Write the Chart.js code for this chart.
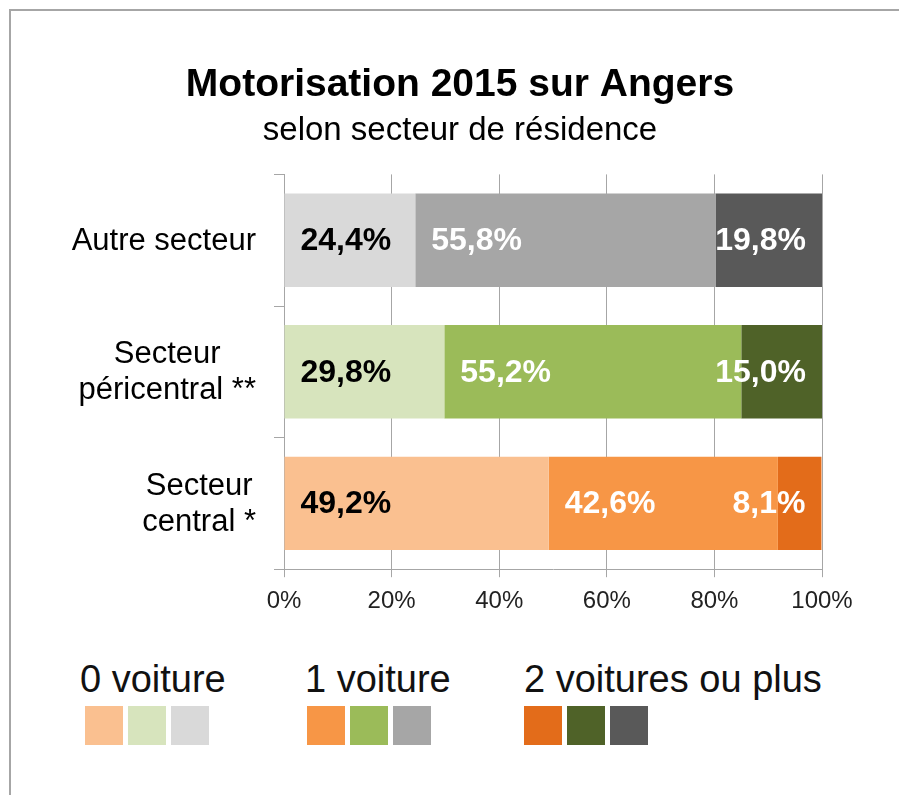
<!DOCTYPE html>
<html>
<head>
<meta charset="utf-8">
<script src="https://cdn.jsdelivr.net/npm/chart.js@4.4.0/dist/chart.umd.min.js"></script>
<style>
    body { margin: 0; background: #fff; width: 899px; height: 795px; overflow: hidden; position: relative; font-family: "Liberation Sans", Arial, sans-serif; }
    #frame { position: absolute; left: 9px; top: 9px; width: 1000px; height: 1000px; border-left: 2px solid #a6a6a6; border-top: 2px solid #a6a6a6; }
    #wrap { position: absolute; left: 0; top: 0; width: 899px; height: 640px; }
    .lg-text { position: absolute; top: 660px; font-size: 38px; line-height: 38px; color: #111; white-space: nowrap; }
    .lg-box { position: absolute; top: 706px; width: 38px; height: 39px; }
</style>
</head>
<body>
<div id="frame"></div>
<div id="wrap"><canvas id="motoChart"></canvas></div>
<div id="legend"></div>
<script>
const categories = [['Autre secteur'], ['Secteur', 'péricentral **'], ['Secteur', 'central *']];
const zeroCar = [24.4, 29.8, 49.2];
const oneCar = [55.8, 55.2, 42.6];
const twoCars = [19.8, 15.0, 8.1];
const seriesNames = ['0 voiture', '1 voiture', '2 voitures ou plus'];
const xTicks = [0, 20, 40, 60, 80, 100];

// colours per category: autre (gris), péricentral (vert), central (orange)
const zeroColors = ['#D9D9D9', '#D7E4BD', '#FAC090'];
const oneColors = ['#A6A6A6', '#9BBB59', '#F79646'];
const twoColors = ['#595959', '#4F6228', '#E36C1A'];

const FONT = '"Liberation Sans", Arial, sans-serif';

// legend: one group per series, squares in order central, péricentral, autre
const legendX = [80, 305, 524];
const legendBoxX = [85, 307, 524];
const legendColors = [zeroColors, oneColors, twoColors];
const legendEl = document.getElementById('legend');
seriesNames.forEach((name, i) => {
    const t = document.createElement('div');
    t.className = 'lg-text';
    t.style.left = legendX[i] + 'px';
    t.textContent = name;
    legendEl.appendChild(t);
    [2, 1, 0].forEach((c, k) => {
        const b = document.createElement('div');
        b.className = 'lg-box';
        b.style.left = (legendBoxX[i] + k * 43) + 'px';
        b.style.background = legendColors[i][c];
        legendEl.appendChild(b);
    });
});

const valueLabels = {
    id: 'valueLabels',
    afterDatasetsDraw(chart) {
        const ctx = chart.ctx;
        ctx.save();
        ctx.font = 'bold 32px ' + FONT;
        ctx.textBaseline = 'middle';
        chart.data.datasets.forEach((ds, i) => {
            const meta = chart.getDatasetMeta(i);
            meta.data.forEach((bar, j) => {
                const txt = ds.data[j].toFixed(1).replace('.', ',') + '%';
                ctx.fillStyle = i === 0 ? '#000' : '#fff';
                if (i === 2) {
                    ctx.textAlign = 'right';
                    ctx.fillText(txt, bar.x - 16, bar.y + 1);
                } else {
                    ctx.textAlign = 'left';
                    ctx.fillText(txt, bar.base + 16, bar.y + 1);
                }
            });
        });
        ctx.restore();
    }
};

const categoryLabels = {
    id: 'categoryLabels',
    afterDraw(chart) {
        const ctx = chart.ctx;
        const yScale = chart.scales.y;
        ctx.save();
        ctx.font = '31px ' + FONT;
        ctx.fillStyle = '#000';
        ctx.textBaseline = 'middle';
        ctx.textAlign = 'center';
        categories.forEach((lines, i) => {
            const cy = yScale.getPixelForValue(i);
            const w = Math.max(...lines.map(l => ctx.measureText(l).width));
            const cx = yScale.right - 28 - w / 2;
            lines.forEach((l, k) => {
                ctx.fillText(l, cx, cy + (k - (lines.length - 1) / 2) * 36 + 1);
            });
        });
        ctx.restore();
    }
};

const ctx = document.getElementById('motoChart').getContext('2d');
const motoChart = new Chart(ctx, {
    type: 'bar',
    data: {
        labels: categories,
        datasets: [
            { label: seriesNames[0], data: zeroCar, backgroundColor: zeroColors },
            { label: seriesNames[1], data: oneCar, backgroundColor: oneColors },
            { label: seriesNames[2], data: twoCars, backgroundColor: twoColors }
        ]
    },
    options: {
        indexAxis: 'y',
        responsive: true,
        maintainAspectRatio: false,
        animation: false,
        layout: {
            padding: { left: 98, right: 77, top: 0, bottom: 14 }
        },
        datasets: {
            bar: {
                categoryPercentage: 1,
                barPercentage: 0.71,
                borderWidth: 0
            }
        },
        scales: {
            x: {
                stacked: true,
                min: 0,
                max: 100,
                afterBuildTicks: scale => { scale.ticks = xTicks.map(v => ({ value: v })); },
                grid: {
                    color: '#a6a6a6',
                    lineWidth: 1,
                    tickLength: 8
                },
                border: { color: '#a6a6a6', width: 1 },
                ticks: {
                    padding: 10,
                    color: '#222',
                    font: { family: FONT, size: 24 },
                    callback: v => v + '%'
                }
            },
            y: {
                stacked: true,
                afterFit: scale => { scale.width = 186; },
                grid: {
                    drawOnChartArea: false,
                    offset: true,
                    color: '#a6a6a6',
                    tickLength: 10
                },
                border: { color: '#a6a6a6', width: 1 },
                ticks: { display: false }
            }
        },
        plugins: {
            legend: { display: false },
            tooltip: { enabled: false },
            title: {
                display: true,
                text: 'Motorisation 2015 sur Angers',
                color: '#000',
                font: { family: FONT, size: 39, weight: 'bold' },
                padding: { top: 62, bottom: 0 }
            },
            subtitle: {
                display: true,
                text: 'selon secteur de résidence',
                color: '#000',
                font: { family: FONT, size: 33 },
                padding: { top: 2, bottom: 24 }
            }
        }
    },
    plugins: [valueLabels, categoryLabels]
});
</script>
</body>
</html>
